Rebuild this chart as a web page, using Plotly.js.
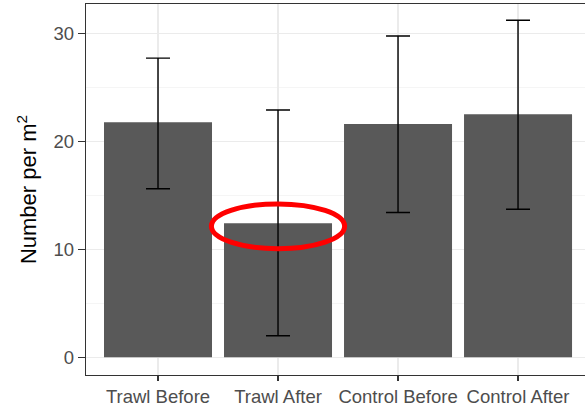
<!DOCTYPE html>
<html>
<head>
<meta charset="utf-8">
<script src="https://cdn.plot.ly/plotly-3.0.1.min.js"></script>
<style>html,body{margin:0;padding:0;background:#fff;}#chart{width:585px;height:407px;}</style>
</head>
<body>
<div id="chart"></div>
<script>
// Data
const categories = ["Trawl Before", "Trawl After", "Control Before", "Control After"];
const meanValues = [21.75, 12.4, 21.6, 22.5];
const upperValues = [27.7, 22.9, 29.75, 31.2];
const lowerValues = [15.6, 2.0, 13.4, 13.7];
const yTickValues = [0, 10, 20, 30];
const highlightedCategory = "Trawl After";

const trace = {
  type: 'bar',
  x: categories,
  y: meanValues,
  marker: {color: '#595959', line: {width: 0}},
  error_y: {
    type: 'data',
    symmetric: false,
    array: upperValues.map((u, i) => u - meanValues[i]),
    arrayminus: lowerValues.map((l, i) => meanValues[i] - l),
    color: '#000000',
    thickness: 1.4,
    width: 12
  },
  hoverinfo: 'none'
};

const hi = categories.indexOf(highlightedCategory);
const hiVal = meanValues[hi];

const layout = {
  width: 585, height: 407,
  margin: {l: 86, r: 0, t: 4, b: 32},
  paper_bgcolor: '#ffffff',
  plot_bgcolor: '#ffffff',
  showlegend: false,
  bargap: 0.1,
  font: {family: 'Liberation Sans, Arial, sans-serif', color: '#4d4d4d', size: 18},
  xaxis: {
    type: 'category',
    range: [-0.6, 3.558],
    showline: true, mirror: true, linecolor: '#333333', linewidth: 1.2,
    ticks: 'outside', ticklen: 5, tickcolor: '#333333', tickwidth: 1.2,
    showgrid: true, gridcolor: '#ebebeb', gridwidth: 1.3,
    tickfont: {size: 18.5, color: '#4d4d4d'},
    zeroline: false
  },
  yaxis: {
    range: [-1.64, 32.71],
    tickvals: yTickValues,
    ticktext: yTickValues.map(String),
    showline: true, mirror: true, linecolor: '#333333', linewidth: 1.2,
    ticks: 'outside', ticklen: 7, tickcolor: '#333333', tickwidth: 1.2,
    showgrid: true, gridcolor: '#ebebeb', gridwidth: 1.3,
    minor: {dtick: 5, tick0: 0, showgrid: true, gridcolor: '#f3f3f3', gridwidth: 0.8, ticklen: 0},
    tickfont: {size: 18.5, color: '#4d4d4d'},
    zeroline: false,
    title: {text: 'Number per m<sup>2</sup>', font: {size: 22, color: '#000000'}, standoff: 10}
  },
  shapes: [{
    type: 'circle',
    xref: 'x', yref: 'y',
    x0: hi - 0.555, x1: hi + 0.555,
    y0: hiVal - 2.35, y1: hiVal + 1.8,
    line: {color: '#ff0000', width: 5},
    fillcolor: 'rgba(0,0,0,0)'
  }]
};

Plotly.newPlot('chart', [trace], layout, {staticPlot: true, displayModeBar: false});
</script>
</body>
</html>
